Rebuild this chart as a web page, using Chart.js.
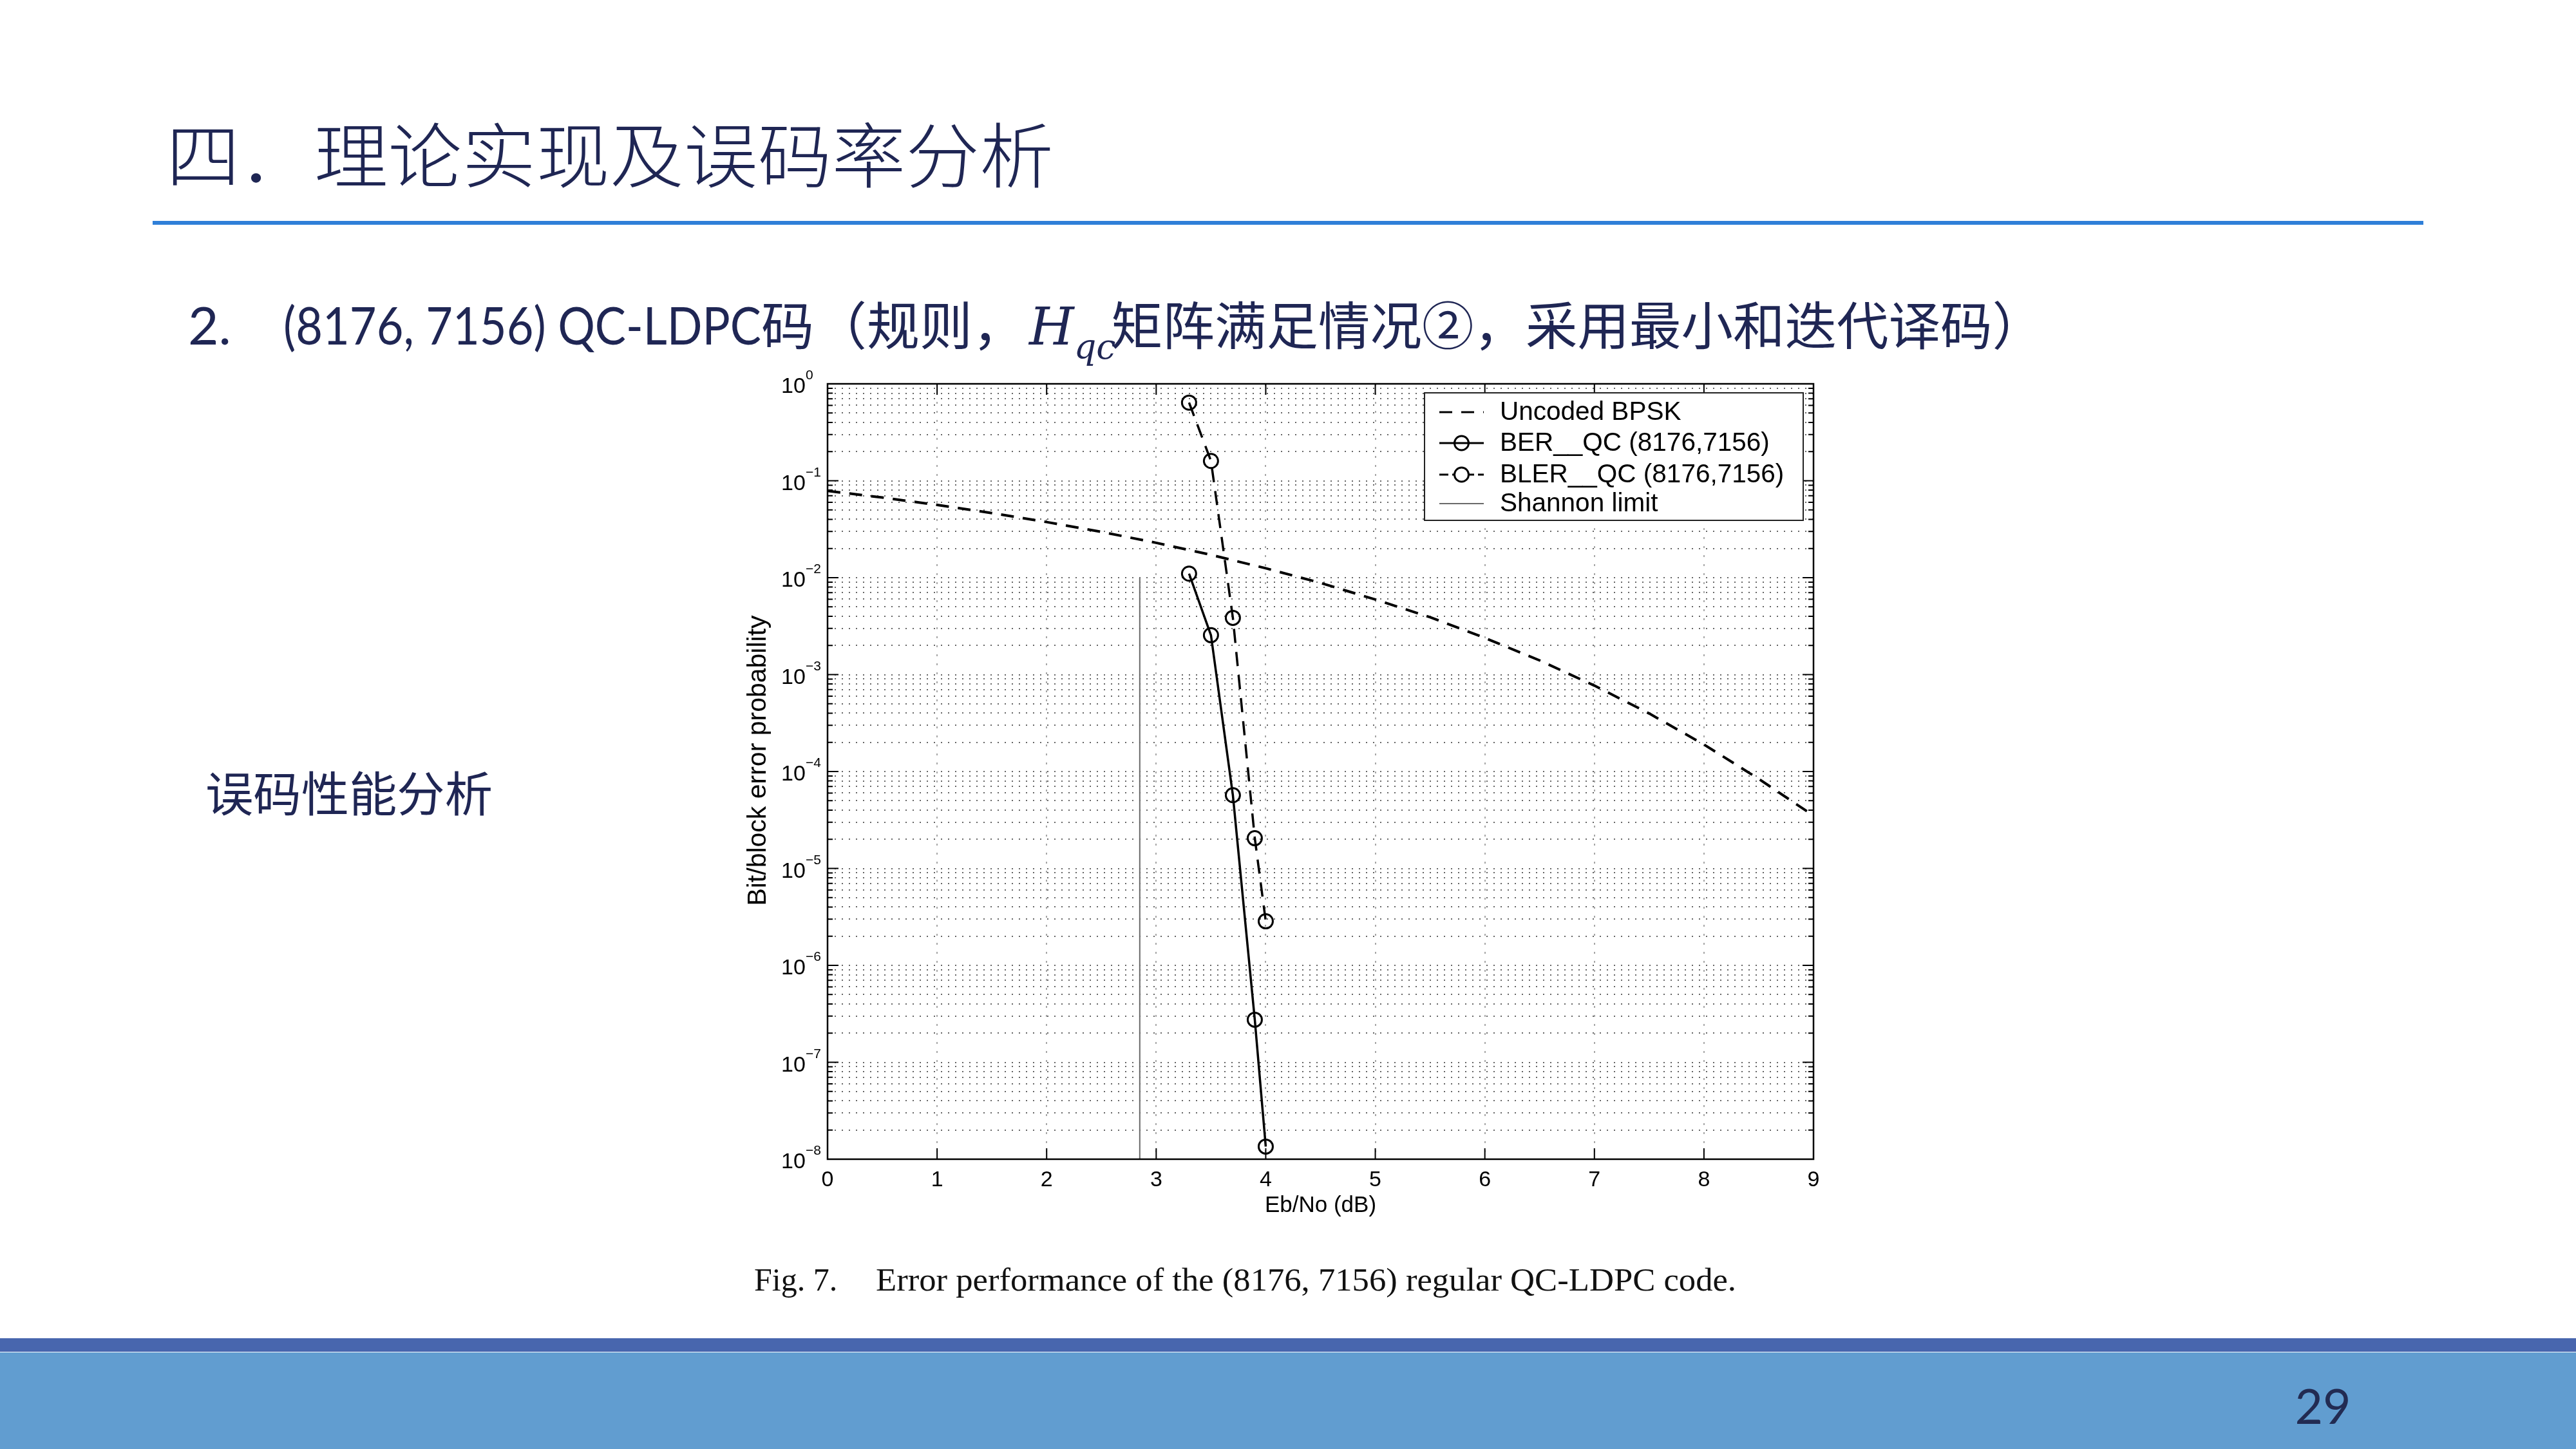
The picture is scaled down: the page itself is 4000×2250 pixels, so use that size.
<!DOCTYPE html>
<html><head><meta charset="utf-8">
<script src="https://cdn.jsdelivr.net/npm/chart.js@4"></script>
<style>
html,body{margin:0;padding:0;}
body{width:4000px;height:2250px;position:relative;overflow:hidden;background:#fff;color:#1F2654;}
.abs{position:absolute;white-space:nowrap;}
.fit{display:inline-block;white-space:nowrap;vertical-align:baseline;}
.fit > span{display:inline-block;transform-origin:0 50%;white-space:nowrap;}
.cjk{font-family:"Noto Sans CJK SC","Noto Sans",sans-serif;}
.lat{font-family:Lato,"Open Sans",sans-serif;}
</style></head>
<body>
<div class="abs cjk" style="left:258px;top:180px;font-size:110px;line-height:1;font-weight:300;"><span class="fit" data-w="1378"><span>四．理论实现及误码率分析</span></span></div>
<div class="abs" style="left:237px;top:343px;width:3526px;height:6px;background:#2F7FD8;"></div>
<div class="abs lat" style="left:292px;top:460px;font-size:82px;line-height:1;">
<span class="fit" style="width:148px"><span>2.</span></span><span class="fit" data-w="742" style="width:742px"><span>(8176, 7156) QC-LDPC</span></span><span class="fit cjk" data-w="410" style="width:416px;font-size:80px"><span>码（规则，</span></span><span class="fit" style="width:127px;font-family:'DejaVu Serif','Liberation Serif',serif;font-style:italic;"><span style="font-size:80px">H<span style="font-size:54px;position:relative;top:22px;">qc</span></span></span><span class="fit cjk" data-w="1449" style="width:1449px;font-size:80px"><span>矩阵满足情况②，采用最小和迭代译码）</span></span>
</div>
<div class="abs cjk" style="left:319px;top:1191px;font-size:74px;line-height:1;"><span class="fit" data-w="446"><span>误码性能分析</span></span></div>
<div class="abs" style="left:1100px;top:560px;width:1800px;height:1400px;"><canvas id="c" width="1800" height="1400" style="width:1800px;height:1400px;"></canvas></div>
<div class="abs" style="left:1171px;top:1962px;font-family:'Liberation Serif','Times New Roman',serif;font-size:50px;line-height:1;color:#111;">
<span class="fit" style="width:189px"><span>Fig. 7.</span></span><span class="fit" data-w="1336" style="width:1336px"><span>Error performance of the (8176, 7156) regular QC-LDPC code.</span></span>
</div>
<div class="abs" style="left:0;top:2078px;width:4000px;height:21px;background:#4866AE;"></div>
<div class="abs" style="left:0;top:2100px;width:4000px;height:150px;background:#619DD0;"></div>
<div class="abs lat" style="left:3507px;top:2132px;width:200px;height:100px;display:flex;align-items:center;justify-content:center;font-size:75px;line-height:1;color:#222B52;">29</div>

<script>
// ---- data ----
const ebnoUncoded = [0,0.5,1,1.5,2,2.5,3,3.5,4,4.5,5,5.5,6,6.5,7,7.5,8,8.5,9];
const berUncoded  = [0.0786,0.0671,0.0563,0.0464,0.0375,0.0297,0.0229,0.0172,0.0125,0.00883,0.00595,0.00391,0.00239,0.0014,0.00077,0.000397,0.00019,0.000084,0.000035];
const ebnoQC = [3.3,3.5,3.7,3.9,4.0];
const berQC  = [1.1e-2,2.55e-3,5.7e-5,2.75e-7,1.35e-8];
const blerQC = [0.64,0.16,3.85e-3,2.05e-5,2.85e-6];
const shannonX = [2.85,2.85];
const shannonY = [1e-2,1e-8];
const seriesNames = ['Uncoded BPSK','BER__QC (8176,7156)','BLER__QC (8176,7156)','Shannon limit'];
const xTickValues = [0,1,2,3,4,5,6,7,8,9];
const yDecadeExps = [0,-1,-2,-3,-4,-5,-6,-7,-8];
const xTitle = 'Eb/No (dB)';
const yTitle = 'Bit/block error probability';

// fit text widths
document.querySelectorAll('.fit[data-w]').forEach(el=>{
  const inner = el.firstElementChild;
  const w = inner.getBoundingClientRect().width;
  const target = parseFloat(el.dataset.w);
  if (w>0) inner.style.transform = 'scaleX(' + (target/w) + ')';
});

const FONT = '"Liberation Sans", Arial, sans-serif';
const pts = (xs, ys) => xs.map((x,i)=>({x:x, y:ys[i]}));

const matlabPlugin = {
  id:'matlab',
  beforeDatasetsDraw(chart){
    const {ctx, chartArea:a, scales:{x, y}} = chart;
    ctx.save();
    ctx.strokeStyle = 'rgba(0,0,0,0.6)';
    ctx.lineWidth = 2;
    ctx.setLineDash([2,9]);
    yDecadeExps.forEach(e=>{
      if (e===0) return;
      for (let m=1;m<=9;m++){
        const py = Math.round(y.getPixelForValue(m*Math.pow(10,e)));
        ctx.beginPath(); ctx.moveTo(a.left, py); ctx.lineTo(a.right, py); ctx.stroke();
      }
    });
    ctx.strokeStyle = 'rgba(0,0,0,0.35)';
    ctx.setLineDash([3,11]);
    xTickValues.forEach(v=>{
      if (v===xTickValues[0] || v===xTickValues[xTickValues.length-1]) return;
      const px = Math.round(x.getPixelForValue(v));
      ctx.beginPath(); ctx.moveTo(px, a.top); ctx.lineTo(px, a.bottom); ctx.stroke();
    });
    ctx.restore();
  },
  afterDatasetsDraw(chart){
    const {ctx, chartArea:a, scales:{x, y}} = chart;
    ctx.save();
    ctx.setLineDash([]);
    ctx.strokeStyle = '#000';
    ctx.fillStyle = '#000';
    ctx.lineWidth = 2;
    yDecadeExps.forEach(e=>{
      const py = y.getPixelForValue(Math.pow(10,e));
      ctx.beginPath();
      ctx.moveTo(a.left, py); ctx.lineTo(a.left+17, py);
      ctx.moveTo(a.right, py); ctx.lineTo(a.right-17, py);
      ctx.stroke();
      if (e>-8){
        for (let m=2;m<=9;m++){
          const pm = y.getPixelForValue(m*Math.pow(10,e-1));
          ctx.beginPath();
          ctx.moveTo(a.left, pm); ctx.lineTo(a.left+8, pm);
          ctx.moveTo(a.right, pm); ctx.lineTo(a.right-8, pm);
          ctx.stroke();
        }
      }
      ctx.font = '34px ' + FONT;
      ctx.textAlign = 'left';
      ctx.textBaseline = 'alphabetic';
      ctx.fillText('10', a.left-72, py+14);
      ctx.font = '21px ' + FONT;
      ctx.fillText(e===0 ? '0' : '\u2212' + Math.abs(e), a.left-34, py-7);
    });
    xTickValues.forEach(v=>{
      const px = x.getPixelForValue(v);
      ctx.beginPath();
      ctx.moveTo(px, a.bottom); ctx.lineTo(px, a.bottom-17);
      ctx.moveTo(px, a.top); ctx.lineTo(px, a.top+17);
      ctx.stroke();
    });
    ctx.lineWidth = 2.5;
    ctx.strokeRect(a.left, a.top, a.right-a.left, a.bottom-a.top);
    ctx.font = '35px ' + FONT;
    ctx.textAlign = 'center';
    ctx.textBaseline = 'middle';
    ctx.fillText(xTitle, (a.left+a.right)/2, a.bottom + 72);
    ctx.save();
    ctx.translate(a.left-107, (a.top+a.bottom)/2 - 17);
    ctx.rotate(-Math.PI/2);
    ctx.font = '41px ' + FONT;
    ctx.fillText(yTitle, 0, 0);
    ctx.restore();
    // legend
    const lx = a.right-604, ly = a.top+14, lw = 588, lh = 198;
    ctx.fillStyle = '#fff';
    ctx.fillRect(lx, ly, lw, lh);
    ctx.lineWidth = 2;
    ctx.strokeStyle = '#222';
    ctx.strokeRect(lx, ly, lw, lh);
    const rowsY = [30, 78, 127, 172];
    chart.data.datasets.forEach((ds,i)=>{
      const yy = ly + rowsY[i];
      const x0 = lx+23, x1 = lx+92;
      ctx.save();
      ctx.strokeStyle = ds.borderColor;
      ctx.lineWidth = i===3 ? 2 : 3;
      ctx.setLineDash(i===0 ? [20,14] : (i===2 ? [14,6] : []));
      ctx.beginPath(); ctx.moveTo(x0, yy); ctx.lineTo(x1, yy); ctx.stroke();
      if (ds.pointRadius>0){
        ctx.setLineDash([]);
        ctx.fillStyle = '#fff';
        ctx.lineWidth = 3;
        ctx.strokeStyle = '#000';
        ctx.beginPath(); ctx.arc((x0+x1)/2, yy, 11, 0, Math.PI*2);
        if (i===2) ctx.fill();
        ctx.stroke();
      }
      ctx.restore();
      ctx.fillStyle = '#000';
      ctx.font = '40.5px ' + FONT;
      ctx.textAlign = 'left';
      ctx.textBaseline = 'middle';
      ctx.fillText(ds.label, lx+117, yy+1);
    });
    ctx.restore();
  }
};

new Chart(document.getElementById('c'), {
  type:'line',
  data:{datasets:[
    {label:seriesNames[0], data:pts(ebnoUncoded, berUncoded), borderColor:'#000', borderWidth:4, borderDash:[20,14], pointRadius:0, fill:false, tension:0},
    {label:seriesNames[1], data:pts(ebnoQC, berQC), borderColor:'#000', borderWidth:3.5, pointStyle:'circle', pointRadius:11, pointBorderWidth:3, pointBorderColor:'#000', pointBackgroundColor:'rgba(0,0,0,0)', fill:false},
    {label:seriesNames[2], data:pts(ebnoQC, blerQC), borderColor:'#000', borderWidth:3.5, borderDash:[22,14], pointStyle:'circle', pointRadius:11, pointBorderWidth:3, pointBorderColor:'#000', pointBackgroundColor:'rgba(0,0,0,0)', fill:false},
    {label:seriesNames[3], data:pts(shannonX, shannonY), borderColor:'#6a6a6a', borderWidth:2, pointRadius:0, fill:false}
  ]},
  options:{
    responsive:false, devicePixelRatio:1, animation:false,
    layout:{padding:{top:36,right:84,left:0,bottom:0}},
    plugins:{legend:{display:false}, tooltip:{enabled:false}},
    scales:{
      x:{type:'linear', min:0, max:9,
         ticks:{stepSize:1, color:'#000', font:{family:FONT, size:34}, padding:12, maxRotation:0},
         grid:{display:false, drawTicks:false}, border:{display:false},
         afterFit(s){ s.height = 160; }},
      y:{type:'logarithmic', min:1e-8, max:1,
         ticks:{display:false}, grid:{display:false, drawTicks:false}, border:{display:false},
         afterFit(s){ s.width = 185; }}
    }
  },
  plugins:[matlabPlugin]
});
</script>
</body></html>
